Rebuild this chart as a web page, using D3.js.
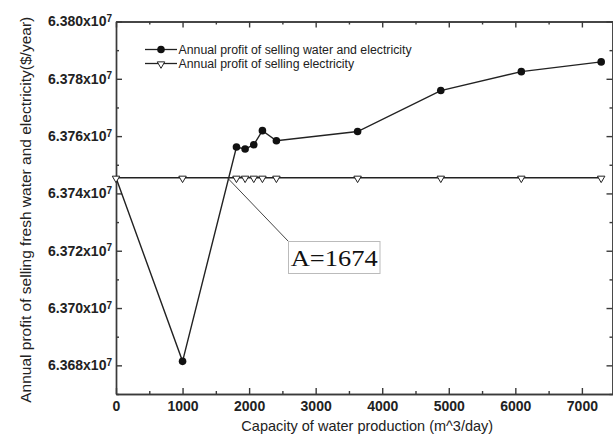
<!DOCTYPE html>
<html>
<head>
<meta charset="utf-8">
<script src="https://cdn.jsdelivr.net/npm/d3@7"></script>
<style>
  body { margin: 0; background: #fff; }
  svg { display: block; font-family: "Liberation Sans", Arial, sans-serif; }
  .axis path, .axis line { stroke: #3a3a3a; stroke-width: 1.4; }
  .axis text { fill: #222; font-size: 14px; font-weight: bold; font-family: "Liberation Sans", Arial, sans-serif; }
</style>
</head>
<body>
<svg id="chart"></svg>
<script>
'use strict';

// capacity of water production (m^3/day)
const capacity = [0, 1000, 1810, 1940, 2070, 2200, 2410, 3630, 4880, 6090, 7290];
// annual profit of selling water and electricity ($/year)
const profitWaterElec = [63745450, 63681400, 63756200, 63755500, 63757000, 63761900, 63758400, 63761600, 63775900, 63782500, 63785900];
// annual profit of selling electricity ($/year)
const profitElec = [63745450, 63745450, 63745450, 63745450, 63745450, 63745450, 63745450, 63745450, 63745450, 63745450, 63745450];

const xMajor = [0, 1000, 2000, 3000, 4000, 5000, 6000, 7000];
const xMinor = [500, 1500, 2500, 3500, 4500, 5500, 6500];
const yMajor = [63680000, 63700000, 63720000, 63740000, 63760000, 63780000, 63800000];
const yMinor = [63670000, 63690000, 63710000, 63730000, 63750000, 63770000, 63790000];

const seriesNames = ['Annual profit of selling water and electricity', 'Annual profit of selling electricity'];
const crossing = 1674;

const W = 613, H = 440;
const margin = { top: 21.5, right: 0.5, bottom: 46, left: 116 };
const width = W - margin.left - margin.right,
      height = H - margin.top - margin.bottom;

const svg = d3.select('#chart')
    .attr('width', W)
    .attr('height', H);

const graph = svg.append('g')
    .attr('transform', `translate(${margin.left}, ${margin.top})`);

const x = d3.scaleLinear()
    .domain([0, 7460])
    .range([0, width]);

const y = d3.scaleLinear()
    .domain([63670000, 63800000])
    .range([height, 0]);

// minor ticks first, then the major ones with labels
graph.append('g').attr('class', 'axis')
    .attr('transform', `translate(0, ${height})`)
    .call(d3.axisBottom(x).tickValues(xMinor).tickSize(-3).tickSizeOuter(0).tickFormat(''));
graph.append('g').attr('class', 'axis')
    .attr('transform', `translate(0, ${height})`)
    .call(d3.axisBottom(x).tickValues(xMajor).tickSize(-6).tickSizeOuter(0).tickPadding(7).tickFormat(d3.format('d')));

graph.append('g').attr('class', 'axis')
    .call(d3.axisTop(x).tickValues(xMinor).tickSize(-3).tickSizeOuter(0).tickFormat(''));
graph.append('g').attr('class', 'axis')
    .call(d3.axisTop(x).tickValues(xMajor).tickSize(-6).tickSizeOuter(0).tickFormat(''));

graph.append('g').attr('class', 'axis')
    .call(d3.axisLeft(y).tickValues(yMinor).tickSize(-3).tickSizeOuter(0).tickFormat(''));
const yAxis = graph.append('g').attr('class', 'axis')
    .call(d3.axisLeft(y).tickValues(yMajor).tickSize(-6).tickSizeOuter(0).tickPadding(4));

yAxis.selectAll('.tick text')
    .text(null)
    .each(function(d) {
      const t = d3.select(this);
      t.append('tspan').text((d / 1e7).toFixed(3) + 'x10');
      t.append('tspan').attr('dy', '-0.45em').attr('font-size', '10px').text('7');
    });

graph.append('g').attr('class', 'axis')
    .attr('transform', `translate(${width}, 0)`)
    .call(d3.axisRight(y).tickValues(yMinor).tickSize(-3).tickSizeOuter(0).tickFormat(''));
graph.append('g').attr('class', 'axis')
    .attr('transform', `translate(${width}, 0)`)
    .call(d3.axisRight(y).tickValues(yMajor).tickSize(-6).tickSizeOuter(0).tickFormat(''));

// axis titles
svg.append('text')
    .attr('x', margin.left + width / 2 + 3)
    .attr('y', 431)
    .attr('text-anchor', 'middle')
    .attr('font-size', '14.5px')
    .attr('fill', '#222')
    .text('Capacity of water production (m^3/day)');

svg.append('text')
    .attr('transform', `translate(31, ${margin.top + height / 2 + 2}) rotate(-90)`)
    .attr('text-anchor', 'middle')
    .attr('font-size', '15.5px')
    .attr('fill', '#222')
    .text('Annual profit of selling fresh water and electricity($/year)');

// series
const line = d3.line()
    .x(d => x(d[0]))
    .y(d => y(d[1]));

const ptsWE = capacity.map((c, i) => [c, profitWaterElec[i]]);
const ptsE = capacity.map((c, i) => [c, profitElec[i]]);

graph.append('path')
    .datum(ptsE)
    .attr('fill', 'none')
    .attr('stroke', '#222')
    .attr('stroke-width', 1.4)
    .attr('d', line);

graph.append('path')
    .datum(ptsWE)
    .attr('fill', 'none')
    .attr('stroke', '#222')
    .attr('stroke-width', 1.4)
    .attr('d', line);

graph.append('g')
    .selectAll('circle')
    .data(ptsWE.filter(d => d[0] > 0))
  .enter().append('circle')
    .attr('cx', d => x(d[0]))
    .attr('cy', d => y(d[1]))
    .attr('r', 3.8)
    .attr('fill', '#111');

const tri = d3.symbol().type(d3.symbolTriangle).size(24);

graph.append('g')
    .selectAll('path')
    .data(ptsE)
  .enter().append('path')
    .attr('d', tri)
    .attr('transform', d => `translate(${x(d[0])}, ${y(d[1]) + 0.5}) rotate(180)`)
    .attr('fill', '#fff')
    .attr('stroke', '#222')
    .attr('stroke-width', 1);

// annotation A=1674
const ax = x(crossing), ay = y(profitElec[0]);
const box = { x: 288.5 - margin.left, y: 241.5 - margin.top, w: 91.5, h: 32 };

graph.append('line')
    .attr('x1', ax).attr('y1', ay)
    .attr('x2', box.x).attr('y2', box.y)
    .attr('stroke', '#444')
    .attr('stroke-width', 1);

graph.append('rect')
    .attr('x', box.x).attr('y', box.y)
    .attr('width', box.w).attr('height', box.h)
    .attr('fill', '#fff')
    .attr('stroke', '#bbb')
    .attr('stroke-width', 1);

graph.append('text')
    .attr('x', box.x + box.w / 2)
    .attr('y', box.y + box.h / 2 + 8.5)
    .attr('text-anchor', 'middle')
    .attr('font-family', '"Liberation Serif", "Times New Roman", serif')
    .attr('font-size', '24px')
    .attr('textLength', 87)
    .attr('lengthAdjust', 'spacingAndGlyphs')
    .attr('fill', '#111')
    .text('A=' + crossing);

// legend
const legend = svg.append('g')
    .attr('transform', 'translate(145, 49.5)');

seriesNames.forEach((name, i) => {
  const row = legend.append('g').attr('transform', `translate(0, ${i * 14})`);
  row.append('line')
      .attr('x1', 0).attr('x2', 32)
      .attr('stroke', '#222').attr('stroke-width', 1.3);
  if (i === 0) {
    row.append('circle').attr('cx', 16).attr('r', 3.8).attr('fill', '#111');
  } else {
    row.append('path')
        .attr('d', tri)
        .attr('transform', 'translate(16, 0.5) rotate(180)')
        .attr('fill', '#fff').attr('stroke', '#222').attr('stroke-width', 1);
  }
  row.append('text')
      .attr('x', 33.5)
      .attr('y', 4.5)
      .attr('font-size', '12.3px')
      .attr('fill', '#222')
      .text(name);
});
</script>
</body>
</html>
